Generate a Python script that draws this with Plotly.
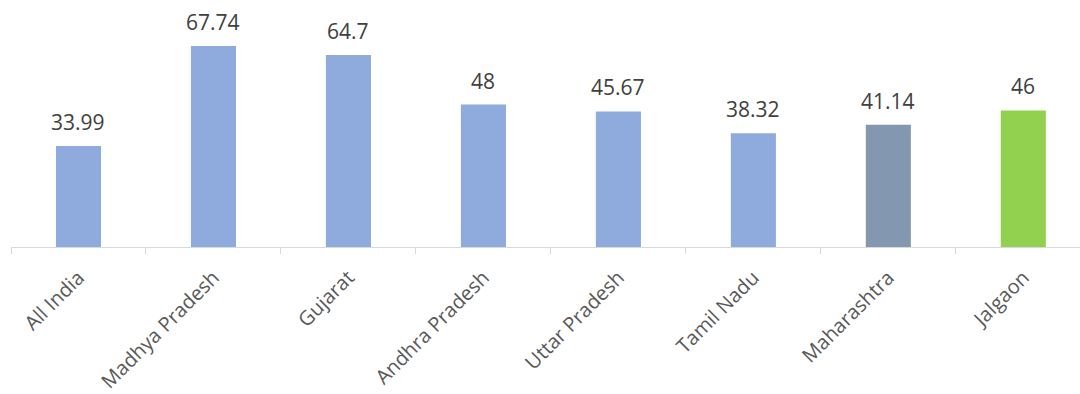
import plotly.graph_objects as go

categories = ["All India", "Madhya Pradesh", "Gujarat", "Andhra Pradesh",
              "Uttar Pradesh", "Tamil Nadu", "Maharashtra", "Jalgaon"]
values = [33.99, 67.74, 64.7, 48, 45.67, 38.32, 41.14, 46]
labels = ["33.99", "67.74", "64.7", "48", "45.67", "38.32", "41.14", "46"]
colors = ["#8FAADC"] * 6 + ["#8497B0", "#92D050"]

fig = go.Figure(go.Bar(x=categories, y=values, marker_color=colors,
                       marker_line_width=0, width=0.334))

for c, v, t in zip(categories, values, labels):
    fig.add_annotation(x=c, y=v, text=t, showarrow=False, yanchor="bottom",
                       yshift=8, font=dict(family="Open Sans", size=21, color="#404040"))

fig.update_layout(
    width=1080, height=394, margin=dict(l=11, r=0, t=0, b=147),
    plot_bgcolor="white", paper_bgcolor="white", showlegend=False,
    xaxis=dict(range=[-0.5, 7.42], showline=True, linecolor="#D9D9D9", linewidth=1,
               ticks="outside", tickson="boundaries", ticklen=6, tickcolor="#D9D9D9",
               tickangle=-45, ticklabelstandoff=10, automargin=False,
               tickfont=dict(family="Open Sans", size=20, color="#595959"),
               showgrid=False),
    yaxis=dict(range=[0, 83.2], visible=False, showgrid=False, zeroline=False),
)
fig.write_html("out.html")
